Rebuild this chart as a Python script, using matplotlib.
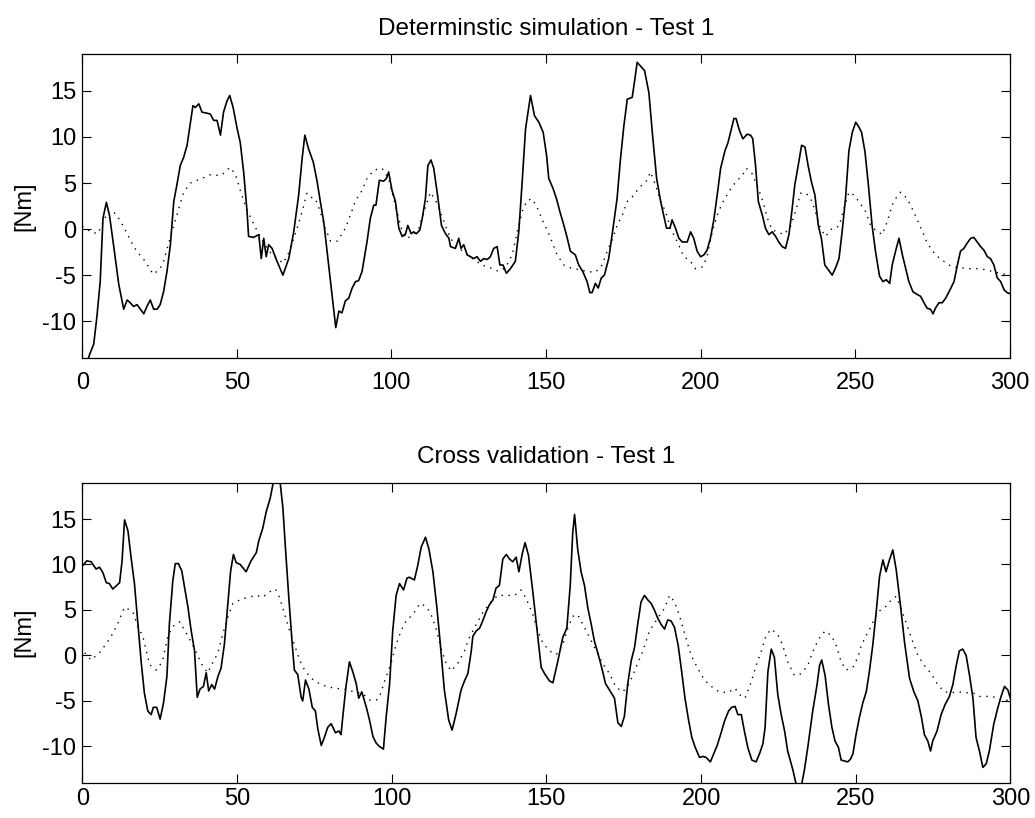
import matplotlib
matplotlib.use("Agg")
import matplotlib.pyplot as plt

# ---------------- data ----------------
top_titles = ["Determinstic simulation - Test 1", "Cross validation - Test 1"]
y_label = "[Nm]"
x_ticks = [0, 50, 100, 150, 200, 250, 300]
y_ticks = [-10, -5, 0, 5, 10, 15]

top_solid_x = [0, 2.5, 3.7, 4.7, 5.8, 6.7, 7.8, 8.8, 10.1, 11.8, 13.4, 14.5, 15.5, 16.6, 17.7, 18.8, 19.9,
               20.9, 22.0, 23.1, 24.2, 25.2, 26.3, 27.4, 28.5, 29.6, 30.6, 31.7, 32.8, 33.9, 34.7, 35.8,
               36.6, 37.7, 38.7, 41.4, 42.5, 43.6, 44.7, 45.7, 46.8, 47.7, 48.8, 50.1, 51.1, 52.2, 53.3,
               53.8, 55.4, 57.1, 57.9, 58.7, 59.5, 60.3, 61.4, 63.0, 64.9, 66.8, 68.4, 70.0, 71.1, 72.0,
               73.2, 74.7, 75.9, 77.0, 78.1, 79.7, 81.3, 82.0, 83.0, 84.0, 85.1, 86.2, 87.3, 88.4, 89.4,
               90.5, 92.1, 93.2, 94.3, 95.0, 96.1, 97.5, 98.4, 99.1, 100.2, 101.3, 102.4, 103.5, 104.5,
               105.3, 106.4, 107.2, 108.1, 109.2, 110.0, 111.0, 111.8, 112.8, 113.7, 114.8, 116.2, 117.5,
               118.6, 119.1, 120.7, 121.8, 122.5, 123.4, 124.5, 125.6, 126.6, 127.7, 128.8, 129.9, 131.0,
               132.0, 133.1, 134.2, 135.1, 136.1, 137.2, 138.5, 140.1, 141.2, 142.3, 143.4, 145.0, 146.3,
               147.7, 149.1, 150.2, 150.9, 152.3, 153.4, 154.5, 155.8, 156.9, 157.9, 159.5, 160.6, 161.9,
               163.3, 164.2, 164.9, 166.0, 166.9, 167.9, 168.9, 170.3, 171.7, 173.0, 174.1, 175.2, 176.3,
               177.9, 178.6, 179.5, 180.6, 181.9, 183.3, 184.4, 185.8, 187.1, 188.1, 189.0, 190.1, 190.8,
               191.9, 193.0, 194.1, 195.7, 196.8, 197.8, 198.9, 200.0, 201.1, 202.1, 203.2, 204.3, 205.4,
               206.5, 207.9, 208.9, 210.0, 210.8, 211.5, 212.6, 213.7, 215.1, 216.2, 216.9, 217.8, 218.7,
               220.0, 221.0, 222.1, 223.2, 224.3, 225.3, 226.4, 227.5, 228.6, 229.4, 230.5, 231.6, 232.7,
               233.8, 234.8, 235.9, 237.0, 238.1, 239.1, 240.2, 241.3, 242.6, 243.7, 244.8, 245.8, 246.9,
               248.0, 249.1, 250.2, 251.2, 252.1, 253.2, 254.3, 255.5, 256.6, 257.9, 259.0, 260.1, 261.2,
               262.0, 263.1, 264.2, 265.3, 266.3, 267.4, 268.7, 270.1, 271.2, 272.3, 273.3, 274.4, 275.2,
               276.0, 277.1, 278.2, 279.3, 280.4, 282.0, 283.1, 284.1, 285.2, 286.3, 287.4, 288.4, 289.5,
               290.6, 291.7, 292.8, 293.8, 294.9, 296.0, 297.1, 298.2, 299.2, 300.0]
top_solid_y = [-16.0, -13.5, -12.5, -9.6, -5.7, 1.2, 2.9, 1.5, -1.7, -6.0, -8.7, -7.7, -8.0, -8.4, -8.2, -8.7, -9.2,
               -8.4, -7.7, -8.7, -8.7, -8.2, -6.8, -4.6, -1.7, 3.0, 4.8, 6.9, 7.8, 9.1, 10.9, 13.4,
               13.2, 13.6, 12.7, 12.5, 11.8, 11.8, 10.2, 12.7, 13.9, 14.5, 13.2, 10.9, 9.4, 6.2, 1.9,
               -0.8, -0.9, -0.6, -3.2, -1.0, -3.0, -1.7, -2.1, -3.5, -5.0, -3.2, -0.3, 3.7, 7.6, 10.2,
               8.7, 7.3, 5.3, 3.0, 0.8, -3.9, -8.6, -10.7, -8.9, -9.1, -7.8, -7.5, -6.4, -5.7, -5.6,
               -4.6, -1.4, 1.2, 2.6, 2.6, 5.3, 5.2, 5.5, 6.2, 4.2, 3.0, 0.1, -0.8, -0.6,
               0.4, -0.5, -0.3, -0.5, -0.1, 1.2, 3.3, 6.9, 7.5, 6.6, 4.0, 0.4, -0.5,
               -1.0, -1.9, -2.1, -1.0, -2.1, -1.7, -2.8, -3.0, -3.2, -3.0, -3.5, -3.2, -3.3,
               -3.0, -2.1, -1.9, -3.9, -3.9, -4.8, -4.3, -3.5, -0.3, 5.1, 10.9, 14.5, 12.3,
               11.6, 10.5, 8.0, 5.5, 4.4, 3.3, 1.9, 0.4, -1.0, -2.4, -2.8, -3.9, -4.6,
               -5.7, -6.9, -6.9, -5.9, -6.4, -5.3, -5.0, -3.2, 0.1, 3.3, 7.6, 11.2, 14.1,
               14.3, 15.9, 18.1, 17.7, 17.2, 14.8, 10.5, 5.5, 3.0, 1.5, 0.1, 0.1, 1.0,
               0.1, -1.0, -1.4, -1.4, -0.3, -1.0, -2.4, -3.0, -2.8, -2.3, -1.0, 1.0, 3.7,
               6.6, 8.5, 9.4, 10.9, 12.0, 12.0, 10.7, 9.8, 10.3, 10.2, 9.8, 6.9, 3.0,
               1.5, 0.1, -0.6, -0.3, -0.8, -1.4, -1.9, -2.1, -0.6, 1.5, 4.8, 6.9, 9.1,
               8.9, 6.9, 5.1, 3.7, 0.4, -1.0, -3.9, -4.4, -5.0, -4.2, -3.2, -0.3, 3.3,
               8.5, 10.5, 11.6, 11.1, 10.5, 8.4, 4.8, 0.4, -2.4, -5.1, -5.7, -5.5, -5.9,
               -3.9, -2.4, -1.0, -2.8, -4.2, -5.7, -6.8, -7.1, -7.3, -8.0, -8.6, -8.7, -9.2,
               -8.6, -8.0, -8.0, -7.5, -6.8, -5.7, -3.9, -2.4, -2.1, -1.5, -1.0, -0.9, -1.4,
               -1.9, -2.3, -3.0, -3.2, -3.9, -5.3, -5.7, -6.6, -6.9, -7.0]

top_dotted_x = [0, 2.8, 5.0, 8.5, 10.7, 12.3, 13.9, 16.6, 18.6, 20.4, 22.9, 25.0, 26.3, 28.0, 29.6, 31.2, 32.8,
                35.0, 38.7, 41.4, 44.7, 46.3, 47.7, 49.5, 51.1, 53.1, 54.4, 55.8, 58.7, 61.4, 63.5, 64.9,
                66.5, 67.9, 69.5, 71.1, 72.7, 74.3, 75.4, 77.0, 78.6, 80.3, 82.6, 85.1, 86.7, 88.4, 90.5,
                92.1, 94.3, 97.0, 99.1, 101.8, 103.5, 105.1, 107.2, 108.9, 110.5, 112.6, 114.8, 117.0,
                119.1, 121.8, 124.0, 126.6, 129.3, 132.0, 134.7, 136.9, 139.1, 140.7, 142.3, 143.9, 145.5,
                147.1, 148.8, 150.4, 152.0, 153.6, 155.8, 157.9, 160.6, 163.3, 166.0, 168.2, 169.8, 171.4,
                173.0, 174.7, 176.3, 177.9, 179.5, 181.1, 182.7, 183.8, 185.4, 187.1, 188.7, 190.3, 192.5,
                194.6, 196.5, 198.4, 200.7, 202.1, 203.8, 205.4, 207.0, 208.6, 210.2, 211.9, 213.5, 214.8,
                216.7, 218.7, 220.2, 221.6, 223.2, 224.8, 227.0, 229.1, 230.7, 232.4, 234.2, 236.1, 238.8,
                240.4, 242.6, 244.8, 246.4, 248.0, 249.6, 251.2, 253.4, 255.0, 256.6, 258.8, 260.4, 262.0,
                263.1, 264.7, 266.9, 268.5, 270.7, 273.3, 276.0, 278.7, 281.4, 284.1, 286.8, 289.5, 292.2,
                294.4, 297.1, 300.0]
top_dotted_y = [0.3, -0.3, -0.5, 2.0, 1.7, 0.9, -0.1, -1.9, -2.8, -3.5, -4.9, -4.4, -3.5, -1.5, 0.4, 2.2, 4.0,
                5.0, 5.5, 5.9, 5.8, 6.2, 6.7, 6.0, 4.2, 2.2, 1.3, 0.3, -1.5, -2.8, -3.3, -3.7,
                -2.8, -1.5, 0.1, 1.9, 3.9, 3.4, 3.3, 1.9, 0.1, -1.3, -1.3, 0.1, 1.5, 3.1, 4.2,
                5.5, 6.4, 6.6, 5.5, 1.9, -0.3, -1.0, -0.6, 0.1, 1.9, 4.0, 2.8, 0.8,
                -1.0, -2.1, -2.6, -3.3, -3.9, -4.2, -4.6, -4.2, -2.8, -0.3, 1.9, 3.1, 3.3,
                2.4, 1.0, -0.1, -1.4, -2.8, -3.9, -4.2, -4.4, -4.6, -4.7, -3.9, -2.4, -1.2,
                0.4, 1.5, 3.0, 3.5, 4.2, 4.8, 5.3, 6.2, 4.8, 3.0, 1.9, 0.1, -1.4,
                -3.0, -3.4, -4.3, -4.1, -3.0, -0.3, 1.5, 2.8, 3.7, 4.6, 5.3, 5.8, 6.6,
                6.0, 4.4, 3.0, 1.2, -0.1, -0.3, -0.6, 0.3, 1.9, 3.9, 3.9, 3.0, 0.1,
                -0.8, 0.1, 0.3, 2.2, 4.0, 3.7, 3.0, 1.9, 0.4, -0.1, -0.6, 0.8, 2.6,
                3.3, 4.0, 3.3, 2.2, 0.6, -1.5, -2.8, -3.5, -4.1, -4.2, -4.3, -4.3, -4.4,
                -4.6, -4.8, -5.0]

bot_solid_x = [0.1, 1.4, 2.8, 4.4, 5.5, 6.6, 7.7, 8.7, 9.8, 11.4, 12.0, 12.8, 13.6, 14.7, 15.7, 16.8, 17.9,
               19.0, 20.0, 21.1, 22.2, 22.9, 24.0, 25.1, 26.2, 27.3, 28.1, 29.2, 30.0, 31.0, 32.1, 33.0,
               34.1, 35.1, 36.2, 37.1, 38.0, 39.1, 40.0, 40.8, 41.8, 42.7, 43.8, 44.8, 45.9, 47.0, 47.9,
               48.8, 49.7, 51.0, 52.9, 54.5, 56.2, 57.0, 58.3, 59.4, 60.7, 61.5, 62.8, 64.8, 65.6, 66.7,
               67.8, 68.5, 69.6, 70.7, 71.2, 72.1, 73.2, 74.3, 75.3, 76.1, 77.2, 78.2, 79.3, 80.4, 81.8,
               82.9, 83.6, 84.2, 85.2, 86.3, 87.4, 88.5, 89.3, 90.3, 91.7, 92.8, 93.9, 94.9, 96.0, 97.3,
               98.2, 99.3, 100.3, 101.4, 102.5, 103.8, 104.9, 105.7, 107.3, 108.4, 109.5, 110.9, 112.0,
               113.3, 114.6, 115.6, 117.0, 118.4, 119.5, 120.8, 122.4, 123.5, 124.6, 125.7, 126.2, 127.3,
               128.4, 129.4, 130.5, 131.6, 132.7, 133.7, 134.8, 135.9, 137.0, 138.1, 139.1, 140.2, 141.1,
               142.2, 143.1, 144.2, 145.6, 146.9, 148.3, 149.4, 151.0, 152.1, 153.7, 155.3, 156.6, 157.7,
               158.5, 159.1, 160.1, 161.2, 162.3, 163.4, 164.5, 165.5, 167.0, 168.0, 169.1, 170.4, 172.0,
               173.1, 174.2, 175.2, 176.3, 177.4, 178.5, 179.5, 180.6, 181.7, 182.8, 183.9, 184.9, 186.0,
               187.1, 188.2, 189.2, 190.3, 191.4, 192.6, 193.7, 194.8, 195.9, 197.0, 198.1, 199.5, 200.6,
               201.6, 203.0, 204.1, 205.2, 206.3, 207.6, 208.9, 209.9, 211.0, 211.9, 213.0, 214.0, 215.1,
               216.4, 217.8, 218.9, 220.0, 220.7, 221.6, 222.7, 223.7, 224.8, 225.9, 227.0, 228.0, 229.7,
               230.7, 231.6, 232.5, 233.4, 234.5, 236.1, 237.5, 238.3, 239.0, 240.1, 241.2, 242.3, 243.3,
               244.4, 245.3, 246.4, 247.4, 248.3, 249.1, 250.1, 251.2, 252.3, 253.4, 254.4, 255.5, 256.6,
               257.7, 258.8, 259.8, 260.9, 262.0, 263.1, 264.5, 265.8, 267.4, 268.8, 270.1, 271.2, 272.2,
               273.3, 274.2, 274.9, 276.3, 277.6, 278.9, 280.3, 281.4, 282.5, 283.5, 284.6, 285.7, 286.8,
               287.9, 288.9, 290.0, 291.1, 292.2, 293.2, 294.6, 295.9, 297.0, 298.1, 299.2, 300.0]
bot_solid_y = [9.9, 10.4, 10.3, 9.5, 9.7, 9.1, 8.0, 7.9, 7.3, 7.8, 8.0, 10.4, 14.9, 13.7, 10.8, 7.9, 3.5,
               -0.8, -4.1, -6.1, -6.5, -5.7, -5.7, -7.0, -5.2, -2.3, 3.5, 8.2, 10.1, 10.1, 9.3, 7.5,
               5.3, 2.8, 0.6, -4.6, -3.7, -3.4, -1.9, -3.9, -3.2, -3.7, -2.3, -1.4, 1.3, 5.7, 9.3,
               11.1, 10.2, 10.0, 9.2, 10.4, 11.3, 12.6, 14.0, 15.8, 17.3, 18.7, 22.5, 16.2, 11.9, 6.4,
               1.3, -1.6, -2.1, -4.6, -5.0, -2.7, -3.7, -5.7, -6.1, -8.1, -9.9, -9.0, -7.9, -7.5, -8.5,
               -8.3, -8.7, -6.6, -3.4, -0.7, -1.8, -3.1, -4.7, -4.0, -5.6, -7.1, -8.9, -9.6, -10.0, -10.3,
               -6.7, -3.1, 2.7, 6.6, 7.9, 7.2, 8.5, 8.6, 8.3, 9.9, 11.9, 13.0, 11.7,
               9.2, 5.2, 1.6, -3.8, -7.1, -8.2, -6.4, -3.8, -2.8, -2.0, 0.5, 2.1, 2.7,
               3.0, 3.8, 4.8, 5.6, 6.1, 7.4, 7.7, 10.6, 11.1, 10.6, 10.3, 10.8, 9.2,
               11.2, 12.4, 11.0, 7.0, 3.0, -1.3, -2.0, -2.8, -3.0, -0.6, 2.0, 3.0, 7.7,
               13.5, 15.5, 11.7, 9.2, 7.7, 5.2, 3.4, 1.6, -0.2, -1.5, -3.1, -3.8, -4.7,
               -7.4, -7.8, -6.7, -3.1, -0.6, 0.9, 3.4, 5.9, 6.6, 6.1, 5.7, 5.0, 4.1,
               3.4, 2.9, 3.9, 3.8, 3.1, 1.1, -1.7, -4.7, -7.0, -9.0, -10.1, -11.2, -11.1,
               -11.2, -11.7, -10.8, -9.9, -8.7, -7.2, -6.1, -5.7, -5.6, -6.5, -6.5, -8.3, -10.1,
               -11.5, -11.7, -10.8, -9.7, -7.9, -1.8, 0.7, -0.2, -4.3, -6.5, -8.3, -10.5, -12.6,
               -14.1, -15.5, -14.2, -12.6, -10.1, -6.1, -3.2, -1.1, -0.5, -2.2, -5.4, -7.9, -9.4,
               -10.1, -11.5, -11.6, -11.7, -11.4, -10.8, -8.7, -6.8, -5.2, -4.0, -1.8, 1.1, 4.7,
               8.7, 10.5, 9.2, 10.5, 11.6, 9.4, 5.4, 1.4, -2.5, -4.0, -5.0, -6.7, -8.7,
               -9.4, -10.5, -9.4, -8.3, -6.5, -5.4, -4.5, -3.2, -1.1, 0.5, 0.7, 0.0, -2.2,
               -4.7, -9.0, -10.5, -12.3, -11.9, -10.5, -7.6, -5.8, -4.5, -3.4, -3.8, -4.7]

bot_dotted_x = [0.7, 2.8, 5.5, 7.7, 9.8, 11.4, 13.6, 16.3, 17.9, 19.5, 21.7, 23.8, 25.8, 27.6, 29.2, 31.4,
                33.5, 35.1, 36.8, 38.9, 40.5, 42.1, 43.8, 45.4, 47.0, 48.6, 50.8, 53.5, 56.2, 58.3, 60.5,
                62.4, 63.7, 65.3, 66.9, 68.5, 70.2, 71.8, 73.9, 76.1, 78.8, 81.5, 84.7, 87.9, 90.6, 92.8,
                95.0, 96.0, 97.6, 99.8, 101.4, 103.0, 104.6, 106.8, 109.0, 111.1, 112.7, 114.3, 116.0,
                117.6, 119.2, 121.3, 123.5, 125.1, 127.3, 129.4, 132.1, 134.3, 137.0, 139.7, 141.8, 143.4,
                145.6, 147.2, 148.8, 151.0, 153.2, 155.3, 156.9, 158.5, 160.1, 161.8, 163.9, 166.1, 168.2,
                170.4, 172.5, 174.7, 176.8, 179.0, 181.2, 183.3, 186.0, 188.2, 189.8, 191.4, 193.0, 194.6,
                196.8, 198.9, 201.1, 203.3, 205.9, 208.6, 211.0, 212.4, 214.2, 216.2, 217.8, 219.4, 221.0,
                222.7, 224.8, 226.4, 228.0, 230.2, 232.4, 234.5, 236.1, 238.0, 240.1, 242.1, 243.7, 245.3,
                246.9, 249.1, 250.7, 251.8, 253.4, 255.0, 256.1, 257.7, 259.8, 261.5, 263.1, 264.7, 266.3,
                267.9, 270.1, 272.2, 274.4, 276.5, 278.7, 280.9, 283.0, 285.2, 287.9, 290.0, 292.2, 294.3,
                296.5, 298.6, 300.0]
bot_dotted_y = [0.3, -0.5, 0.3, 1.3, 2.4, 3.5, 5.3, 4.8, 3.2, 2.1, -1.0, -1.6, -0.7, 2.1, 3.2, 3.7,
                2.5, 1.5, 0.3, -1.2, -1.9, -0.8, 0.3, 2.4, 4.2, 5.7, 6.1, 6.4, 6.6, 6.4, 7.0,
                7.3, 6.4, 4.6, 2.8, 1.2, -0.5, -1.6, -2.5, -3.0, -3.4, -3.6, -3.7, -4.0, -4.2, -4.9,
                -4.9, -4.6, -2.9, -0.8, 1.2, 2.7, 3.8, 4.5, 5.7, 5.4, 4.5, 3.0, 0.7,
                -0.9, -1.7, -0.9, 0.5, 2.0, 3.4, 4.7, 5.9, 6.6, 6.6, 6.6, 7.2, 6.3,
                4.5, 2.7, 1.4, 0.5, 0.1, 1.2, 3.0, 4.3, 4.5, 3.4, 2.0, 0.5, -0.9,
                -2.0, -3.5, -4.0, -3.1, -1.3, 0.5, 2.7, 4.1, 5.2, 6.6, 5.9, 4.4, 2.5,
                0.0, -1.4, -2.7, -3.4, -4.0, -4.1, -3.6, -4.3, -4.7, -2.9, -1.1, 0.4, 2.2,
                2.9, 2.3, 1.1, -0.7, -2.2, -2.0, -1.1, 0.4, 1.8, 2.7, 2.2, 1.1, -0.7,
                -1.6, -1.3, -0.2, 1.1, 2.2, 3.2, 4.1, 4.9, 5.4, 6.1, 6.5, 5.1, 3.6,
                2.0, 0.0, -1.1, -2.0, -3.2, -4.0, -4.1, -4.0, -4.1, -4.1, -4.5, -4.5, -4.5,
                -4.9, -4.9, -5.0]

# ---------------- figure ----------------
plt.rcParams['font.family'] = ['Liberation Sans', 'DejaVu Sans']
plt.rcParams['axes.unicode_minus'] = False

fig = plt.figure(figsize=(10.35, 8.18), dpi=100)
ax_top = fig.add_axes([0.0795, 0.5623, 0.8960, 0.3716])
ax_bot = fig.add_axes([0.0797, 0.0430, 0.8965, 0.3670])

series = [(ax_top, top_solid_x, top_solid_y, top_dotted_x, top_dotted_y, top_titles[0], 10),
          (ax_bot, bot_solid_x, bot_solid_y, bot_dotted_x, bot_dotted_y, top_titles[1], 4)]

for ax, sx, sy, dx, dy, title, xpad in series:
    ax.plot(dx, dy, color='black', linewidth=1.0, linestyle=(0, (1, 4)), dash_capstyle='butt')
    ax.plot(sx, sy, color='black', linewidth=1.2, solid_joinstyle='round')
    ax.set_xlim(0, 300)
    ax.set_ylim(-14, 19)
    ax.set_xticks(x_ticks)
    ax.set_yticks(y_ticks)
    ax.set_xticklabels([str(v) for v in x_ticks])
    ax.set_yticklabels([str(v) for v in y_ticks])
    ax.tick_params(direction='in', length=6.5, width=0.8, top=True, right=True,
                   labelsize=17, colors='black')
    ax.tick_params(axis='x', pad=xpad)
    ax.tick_params(axis='y', pad=4.5)
    for sp in ax.spines.values():
        sp.set_linewidth(0.9)
        sp.set_color('black')
    ax.set_title(title, fontsize=17.5, pad=14)
    ax.set_ylabel(y_label, fontsize=17)
    ax.yaxis.set_label_coords(-0.051, 0.5)

fig.savefig("out.png", dpi=100)
